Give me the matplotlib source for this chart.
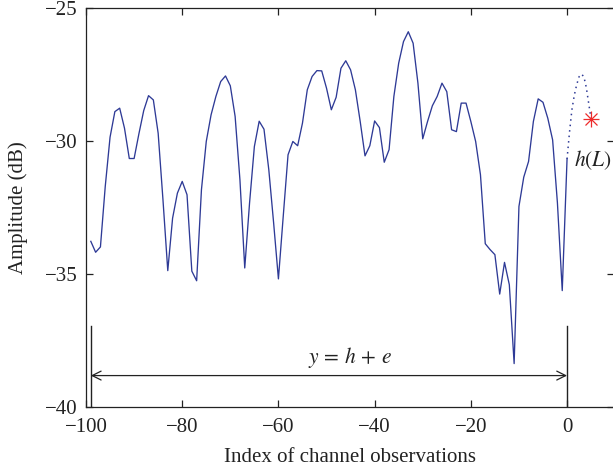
import numpy as np
import matplotlib
matplotlib.use("Agg")
import matplotlib.pyplot as plt

plt.rcParams['font.family'] = ['Liberation Serif', 'DejaVu Serif']
plt.rcParams['mathtext.fontset'] = 'stix'

# observed channel amplitudes (dB), index -99 .. 0
obs_index = list(range(-99, 1))
obs_amp = [
    -33.78, -34.19, -33.99, -31.72, -29.87, -28.91, -28.78, -29.53, -30.67, -30.67,
    -29.74, -28.87, -28.31, -28.47, -29.72, -32.22, -34.88, -32.91, -31.97, -31.53,
    -32.03, -34.90, -35.26, -31.84, -30.03, -29.03, -28.34, -27.78, -27.57, -27.94,
    -29.09, -31.47, -34.78, -32.34, -30.22, -29.27, -29.57, -31.09, -33.08, -35.19,
    -32.84, -30.53, -30.03, -30.19, -29.34, -28.09, -27.59, -27.37, -27.38, -28.03,
    -28.84, -28.37, -27.28, -27.00, -27.34, -28.09, -29.28, -30.57, -30.19, -29.26,
    -29.51, -30.81, -30.34, -28.34, -27.09, -26.28, -25.91, -26.34, -27.84, -29.93,
    -29.28, -28.69, -28.34, -27.84, -28.16, -29.59, -29.66, -28.59, -28.59, -29.28,
    -30.03, -31.28, -33.87, -34.09, -34.28, -35.76, -34.57, -35.41, -38.37, -32.47,
    -31.37, -30.78, -29.28, -28.43, -28.56, -29.16, -29.97, -32.34, -35.63, -30.69,
]

# predicted continuation (dotted)
pred_index = [0, 0.5, 1, 1.5, 2, 2.5, 3, 3.5, 4, 4.5, 5]
pred_amp = [-30.69, -29.7, -28.85, -28.3, -27.9, -27.6, -27.5, -27.6, -28.0, -28.6, -29.2]

# predicted target point h(L)
target_index = [5]
target_amp = [-29.2]

xticks = [-100, -80, -60, -40, -20, 0]
yticks = [-40, -35, -30, -25]

W, H = 613, 471
fig = plt.figure(figsize=(W / 100, H / 100), dpi=100)
ax = fig.add_axes([86 / W, 64 / H, (614 - 86) / W, (407 - 7.5) / H])

line_color = '#2e3a96'
ax.plot(obs_index, obs_amp, color=line_color, lw=0.95)
ax.plot(pred_index, pred_amp, color=line_color, lw=1.1, linestyle=(0, (1, 2.6)))
ax.plot(target_index, target_amp, marker='+', color='#ee2a2a', ms=11, mew=0.9, ls='none')
ax.plot(target_index, target_amp, marker='x', color='#ee2a2a', ms=8, mew=0.9, ls='none')

ax.text(1.5, -30.75, r'$h(L)$', fontsize=15.5, va='center', ha='left', color='#222222')

# annotation: observation window
ax.plot([-99, -99], [-40, -36.95], color='#222222', lw=1.0)
ax.plot([0, 0], [-40, -36.95], color='#222222', lw=1.0)
ax.annotate('', xy=(-99, -38.82), xytext=(0, -38.82),
            arrowprops=dict(arrowstyle='<->', color='#222222', lw=0.9,
                            shrinkA=0, shrinkB=0, mutation_scale=16))
ax.text(-45.2, -38.62, r'$y\,=\,h\,+\,e$', fontsize=15.5, ha='center', va='bottom',
        color='#222222')

ax.set_xlim(-100, 9.76)
ax.set_ylim(-40, -25)
ax.set_xticks(xticks)
ax.set_yticks(yticks)
ax.set_xticklabels(['\u2212100', '\u221280', '\u221260', '\u221240', '\u221220', '0'])
ax.set_yticklabels(['\u221240', '\u221235', '\u221230', '\u221225'])
ax.tick_params(direction='in', length=5, width=0.9, top=True, right=True,
               labelsize=15, colors='#222222')
ax.tick_params(axis='x', pad=8)
ax.tick_params(axis='y', pad=6)
for s in ax.spines.values():
    s.set_linewidth(0.9)
    s.set_color('#222222')

ax.set_xlabel('Index of channel observations', fontsize=15, color='#222222', labelpad=8)
ax.set_ylabel('Amplitude (dB)', fontsize=15, color='#222222', labelpad=12)

fig.savefig('out.png', dpi=100)
